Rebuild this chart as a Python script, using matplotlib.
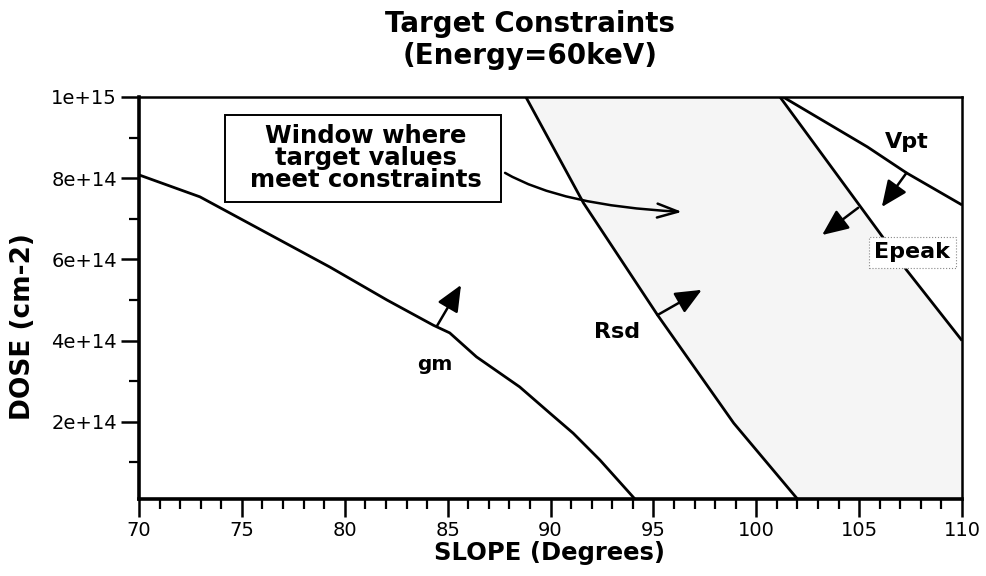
import matplotlib.pyplot as plt
from matplotlib.patches import Rectangle
from matplotlib.ticker import FixedLocator

plt.rcParams['font.family'] = ['DejaVu Sans']

# constraint boundaries: slope (degrees) vs dose (cm-2)
gm_slope = [70.0, 72.96, 79.28, 82.05, 84.3, 85.1, 86.4, 88.5, 90.0, 91.1, 92.4, 94.1]
gm_dose = [8.08e14, 7.54e14, 5.81e14, 5.0e14, 4.38e14, 4.19e14, 3.6e14, 2.86e14,
           2.2e14, 1.72e14, 1.06e14, 1e13]

rsd_slope = [88.8, 91.6, 95.2, 98.9, 102.0]
rsd_dose = [1e15, 7.39e14, 4.63e14, 1.97e14, 1e13]

epeak_slope = [101.15, 105.9, 107.3, 110.0]
epeak_dose = [1e15, 6.72e14, 5.74e14, 4.0e14]

vpt_slope = [101.3, 105.4, 107.3, 110.0]
vpt_dose = [1e15, 8.77e14, 8.13e14, 7.34e14]

x_min, x_max = 70, 110
y_min, y_max = 1e13, 1e15

y_major = [2e14, 4e14, 6e14, 8e14, 1e15]
y_labels = ['2e+14', '4e+14', '6e+14', '8e+14', '1e+15']
y_minor = [1e14, 3e14, 5e14, 7e14, 9e14]
x_major = [70, 75, 80, 85, 90, 95, 100, 105, 110]

fig = plt.figure(figsize=(9.86, 5.76), dpi=100)
ax = fig.add_axes([0.141, 0.1337, 0.8347, 0.698])

# allowed window: right of Rsd, left of Epeak / right edge
win_x = rsd_slope + [x_max, x_max] + epeak_slope[::-1]
win_y = rsd_dose + [y_min, epeak_dose[-1]] + epeak_dose[::-1]
ax.fill(win_x, win_y, color='#f5f5f5', lw=0, zorder=0)

for xs, ys in [(gm_slope, gm_dose), (rsd_slope, rsd_dose),
               (epeak_slope, epeak_dose), (vpt_slope, vpt_dose)]:
    ax.plot(xs, ys, color='black', lw=2, solid_capstyle='butt', zorder=3)

ax.set_xlim(x_min, x_max)
ax.set_ylim(y_min, y_max)
ax.xaxis.set_major_locator(FixedLocator(x_major))
ax.xaxis.set_minor_locator(FixedLocator(range(x_min, x_max + 1)))
ax.yaxis.set_major_locator(FixedLocator(y_major))
ax.yaxis.set_minor_locator(FixedLocator(y_minor))
ax.set_yticklabels(y_labels)
ax.tick_params(which='major', length=13, width=1.8, labelsize=14, pad=3)
ax.tick_params(which='minor', length=7, width=1.6)
for side in ['left', 'bottom']:
    ax.spines[side].set_linewidth(2.6)
for side in ['top', 'right']:
    ax.spines[side].set_linewidth(1.8)

# curve labels
ax.text(84.4, 3.4e14, 'gm', fontsize=14.5, fontweight='bold', ha='center', va='center')
ax.text(93.23, 4.21e14, 'Rsd', fontsize=16, fontweight='bold', ha='center', va='center')
ax.text(107.33, 8.89e14, 'Vpt', fontsize=16, fontweight='bold', ha='center', va='center')
ax.text(107.57, 6.18e14, 'Epeak', fontsize=16, fontweight='bold', ha='center', va='center',
        zorder=4, bbox=dict(boxstyle='square,pad=0.25', fc='white', ec='#888888',
                            ls=':', lw=0.8))

# direction arrows pointing into the allowed side
arrow_kw = dict(arrowstyle='-|>,head_length=0.8,head_width=0.35', color='black',
                lw=1.8, mutation_scale=20, shrinkA=0, shrinkB=0)
for tail, head in [((84.48, 4.36e14), (85.65, 5.37e14)),
                   ((95.2, 4.63e14), (97.35, 5.25e14)),
                   ((104.95, 7.27e14), (103.2, 6.6e14)),
                   ((107.3, 8.13e14), (106.1, 7.29e14))]:
    ax.annotate('', xy=head, xytext=tail, arrowprops=arrow_kw, zorder=5)

# callout box for the allowed window
ax.add_patch(Rectangle((74.18, 7.41e14), 13.41, 2.15e14, fc='white', ec='black',
                       lw=1.4, zorder=5))
ax.text(81.03, 8.5e14, 'Window where\ntarget values\nmeet constraints',
        fontsize=17.5, fontweight='bold', ha='center', va='center',
        multialignment='center', linespacing=0.88, zorder=6)
ax.annotate('', xy=(96.39, 7.17e14), xytext=(87.79, 8.13e14), zorder=5,
            arrowprops=dict(arrowstyle='->,head_length=0.75,head_width=0.25',
                            color='black', lw=1.8, mutation_scale=20,
                            shrinkA=0, shrinkB=0,
                            connectionstyle='angle3,angleA=-30,angleB=-3'))

fig.text(0.5375, 1 - 24 / 576, 'Target Constraints', fontsize=20, fontweight='bold',
         ha='center', va='center')
fig.text(0.5375, 1 - 56 / 576, '(Energy=60keV)', fontsize=20, fontweight='bold',
         ha='center', va='center')
fig.text(550 / 986, 1 - 553 / 576, 'SLOPE (Degrees)', fontsize=17.5, fontweight='bold',
         ha='center', va='center')
fig.text(23 / 986, 1 - 327 / 576, 'DOSE (cm-2)', fontsize=19, fontweight='bold',
         ha='center', va='center', rotation=90)

fig.savefig('out.png', dpi=100)
